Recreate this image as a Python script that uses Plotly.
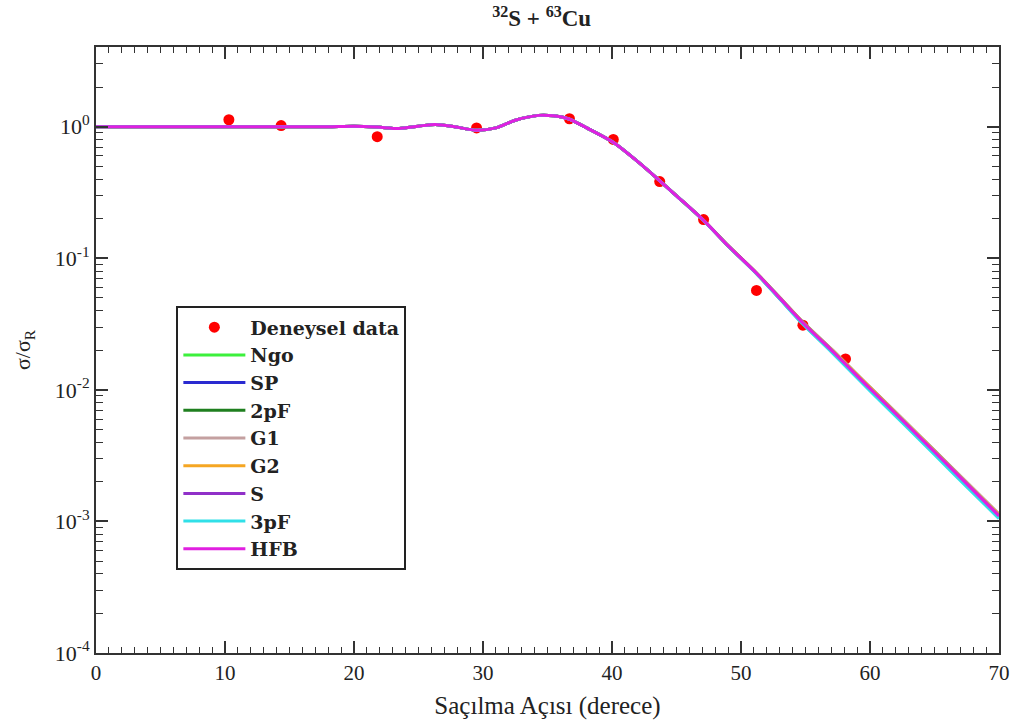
import plotly.graph_objects as go

# Measured elastic cross sections (ratio to Rutherford)
exp_angle = [10.3, 14.35, 21.8, 29.5, 36.7, 40.1, 43.7, 47.1, 51.2, 54.8, 58.1]
exp_ratio = [1.13, 1.02, 0.84, 0.98, 1.15, 0.80, 0.383, 0.197, 0.057, 0.031, 0.0172]

# Forward-angle region where all density models coincide
front_angle = [0, 4, 8, 12, 16, 18, 20, 21.8, 23.5, 25, 26.3, 27.8, 29.5, 31, 32.5,
               34.3, 35.5, 36.6, 38.3, 40.2]
front_ratio = [1.0, 1.0, 1.0, 1.0, 1.0, 1.0, 1.01, 0.995, 0.97, 1.01, 1.04, 1.0, 0.94,
               0.98, 1.12, 1.22, 1.21, 1.15, 0.95, 0.75]

# Large-angle region, one list per density model
tail_angle = [42, 43.75, 45, 47.1, 49, 51.2, 53, 54.8, 57, 60, 62.5, 65, 67.5, 70]
tail_ngo = [0.543, 0.385, 0.298, 0.1937, 0.1242, 0.0765, 0.0494, 0.0318, 0.0197, 0.0100,
            0.00572, 0.00328, 0.00187, 0.00107]
tail_sp = [0.543, 0.385, 0.2983, 0.1938, 0.1243, 0.0767, 0.0496, 0.0320, 0.0198, 0.0101,
           0.00578, 0.00331, 0.00189, 0.00108]
tail_2pf = [0.543, 0.385, 0.299, 0.1945, 0.125, 0.0774, 0.0504, 0.0327, 0.0204, 0.01045,
            0.00602, 0.00345, 0.00197, 0.00113]
tail_g1 = [0.543, 0.385, 0.299, 0.1945, 0.125, 0.0775, 0.0505, 0.0328, 0.0205, 0.0105,
           0.00605, 0.00347, 0.00199, 0.00114]
tail_g2 = [0.543, 0.385, 0.2988, 0.1942, 0.1248, 0.0772, 0.0501, 0.0325, 0.0202, 0.0104,
           0.00595, 0.00341, 0.00195, 0.00112]
tail_s = [0.543, 0.385, 0.2985, 0.194, 0.1245, 0.0769, 0.0498, 0.0322, 0.0200, 0.0102,
          0.00586, 0.00336, 0.00192, 0.00110]
tail_3pf = [0.543, 0.385, 0.298, 0.1935, 0.124, 0.0762, 0.0490, 0.0315, 0.0194, 0.0098,
            0.00562, 0.00321, 0.00183, 0.00105]
tail_hfb = [0.543, 0.385, 0.2985, 0.194, 0.1245, 0.0769, 0.0498, 0.0322, 0.0200, 0.0102,
            0.00588, 0.00337, 0.00193, 0.00110]

model_names = ["Ngo", "SP", "2pF", "G1", "G2", "S", "3pF", "HFB"]
model_tails = [tail_ngo, tail_sp, tail_2pf, tail_g1, tail_g2, tail_s, tail_3pf, tail_hfb]
model_colors = ["#3cf03c", "#2a2ad0", "#1f7f1f", "#c4a0a0", "#f5a623", "#9030c8",
                "#30e0e8", "#e020e0"]

y_tickvals = [1e-4, 1e-3, 1e-2, 1e-1, 1]
y_ticktext = ["10<sup>-4</sup>", "10<sup>-3</sup>", "10<sup>-2</sup>",
              "10<sup>-1</sup>", "10<sup>0</sup>"]

serif = "Liberation Serif, Times New Roman, serif"
wide_serif = "DejaVu Serif, Liberation Serif, serif"

fig = go.Figure()

fig.add_trace(go.Scatter(
    x=exp_angle, y=exp_ratio, mode="markers", name="<b>Deneysel data</b>",
    marker=dict(color="#ff0000", size=11),
))

for name, tail, color in zip(model_names, model_tails, model_colors):
    fig.add_trace(go.Scatter(
        x=front_angle + tail_angle, y=front_ratio + tail,
        mode="lines", name=f"<b>{name}</b>",
        line=dict(color=color, width=3, shape="spline", smoothing=0.8),
    ))

# minor ticks 2..9 within each decade
minor_y = [m * 10 ** e for e in range(-4, 1) for m in range(2, 10)]

fig.update_layout(
    width=1022, height=727,
    margin=dict(l=96, r=19, t=47, b=72),
    paper_bgcolor="white", plot_bgcolor="white",
    font=dict(family=serif, color="#222222", size=20),
    title=dict(text="<b><sup>32</sup>S + <sup>63</sup>Cu</b>", x=0.53, xanchor="center",
               y=0.975, yanchor="middle", font=dict(family=serif, size=23, color="#222")),
    showlegend=True,
    legend=dict(
        x=0.089, y=0.572, xanchor="left", yanchor="top",
        bordercolor="#222222", borderwidth=2, bgcolor="white",
        font=dict(family=wide_serif, size=19, color="#222222"),
        tracegroupgap=0, itemwidth=62,
    ),
    annotations=[dict(
        text="<b>168 MeV</b>", x=60.8, y=1.0, xref="x", yref="y",
        xanchor="center", yanchor="middle", showarrow=False,
        font=dict(family=serif, size=23, color="#222222"),
    )],
)

fig.update_xaxes(
    range=[0, 70], tickvals=[0, 10, 20, 30, 40, 50, 60, 70],
    ticks="inside", ticklen=12, tickwidth=1.5, tickcolor="#333",
    minor=dict(dtick=1, ticks="inside", ticklen=6, tickwidth=1.2, tickcolor="#333"),
    showline=True, linecolor="#333", linewidth=2, mirror="ticks",
    showgrid=False, zeroline=False,
    title=dict(text="Saçılma Açısı (derece)", standoff=12,
               font=dict(family=serif, size=25, color="#222")),
    tickfont=dict(family=serif, size=21, color="#222"),
)

fig.update_yaxes(
    type="log", range=[-4, 0.606],
    tickvals=y_tickvals, ticktext=y_ticktext,
    ticks="inside", ticklen=12, tickwidth=1.5, tickcolor="#333",
    minor=dict(tickvals=minor_y, ticks="inside", ticklen=7, tickwidth=1.2,
               tickcolor="#333"),
    showline=True, linecolor="#333", linewidth=2, mirror="ticks",
    showgrid=False, zeroline=False,
    title=dict(text="σ/σ<sub>R</sub>", standoff=18,
               font=dict(family=serif, size=22, color="#222")),
    tickfont=dict(family=serif, size=22, color="#222"),
)

fig.write_html("out.html")
